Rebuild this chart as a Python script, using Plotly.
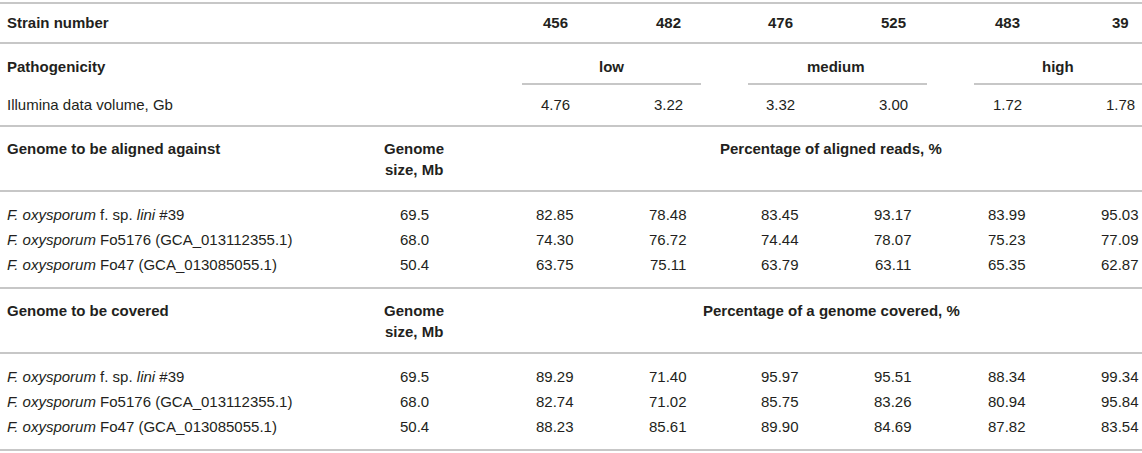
import plotly.graph_objects as go

W, H = 1142, 453

strains = ["456", "482", "476", "525", "483", "39"]
pathogenicity = ["low", "medium", "high"]
illumina_gb = ["4.76", "3.22", "3.32", "3.00", "1.72", "1.78"]

genomes = [
    "<i>F. oxysporum</i> f. sp. <i>lini</i> #39",
    "<i>F. oxysporum</i> Fo5176 (GCA_013112355.1)",
    "<i>F. oxysporum</i> Fo47 (GCA_013085055.1)",
]
genome_size = ["69.5", "68.0", "50.4"]

aligned_reads = [
    ["82.85", "78.48", "83.45", "93.17", "83.99", "95.03"],
    ["74.30", "76.72", "74.44", "78.07", "75.23", "77.09"],
    ["63.75", "75.11", "63.79", "63.11", "65.35", "62.87"],
]
genome_covered = [
    ["89.29", "71.40", "95.97", "95.51", "88.34", "99.34"],
    ["82.74", "71.02", "85.75", "83.26", "80.94", "95.84"],
    ["88.23", "85.61", "89.90", "84.69", "87.82", "83.54"],
]

# layout in pixels
col_x = [555, 668, 780, 893, 1007, 1120]
size_x = 414
label_x = 5
group_x = [611, 836, 1058]
group_lines = [(522, 701), (748, 927), (974, 1142)]
pct_x = 831

FONT = "Liberation Sans, Arial, sans-serif"
FS = 15
TXT = "#231f20"
LINE = "#b4b4b4"

fig = go.Figure()
fig.add_trace(go.Scatter(x=[0, W], y=[0, H], mode="markers",
                         marker=dict(opacity=0), hoverinfo="skip", showlegend=False))


def text(x, y, s, anchor="center", bold=False):
    if bold:
        s = "<b>" + s + "</b>"
    fig.add_annotation(x=x, y=y, text=s, showarrow=False, xanchor=anchor,
                       yanchor="middle", font=dict(family=FONT, size=FS, color=TXT))


def hline(y, x0=0, x1=W):
    fig.add_shape(type="line", x0=x0, x1=x1, y0=y, y1=y,
                  line=dict(color=LINE, width=1.6))


# header
hline(3)
text(label_x, 22, "Strain number", "left", True)
for x, s in zip(col_x, strains):
    text(x, 22, s, bold=True)
hline(43)

text(label_x, 66, "Pathogenicity", "left", True)
for x, s in zip(group_x, pathogenicity):
    text(x, 66, s, bold=True)
for x0, x1 in group_lines:
    hline(84, x0, x1)

text(label_x, 104, "Illumina data volume, Gb", "left")
for x, s in zip(col_x, illumina_gb):
    text(x, 104, s)
hline(126)


def block(top, title, pct_title, values):
    text(label_x, top + 22, title, "left", True)
    text(size_x, top + 22, "Genome", bold=True)
    text(size_x, top + 43, "size, Mb", bold=True)
    text(pct_x, top + 22, pct_title, bold=True)
    hline(top + 65)
    for i, (g, sz, row) in enumerate(zip(genomes, genome_size, values)):
        y = top + 88 + i * 25
        text(label_x, y, g, "left")
        text(size_x, y, sz)
        for x, v in zip(col_x, row):
            text(x, y, v)
    hline(top + 162)


block(126, "Genome to be aligned against", "Percentage of aligned reads, %", aligned_reads)
block(288, "Genome to be covered", "Percentage of a genome covered, %", genome_covered)

fig.update_layout(
    width=W, height=H, margin=dict(l=0, r=0, t=0, b=0),
    paper_bgcolor="white", plot_bgcolor="white",
    xaxis=dict(range=[0, W], visible=False, fixedrange=True),
    yaxis=dict(range=[H, 0], visible=False, fixedrange=True),
)
fig.write_html("out.html", config={"displayModeBar": False},
               post_script="document.body.style.margin='0';document.body.style.overflow='hidden';")
